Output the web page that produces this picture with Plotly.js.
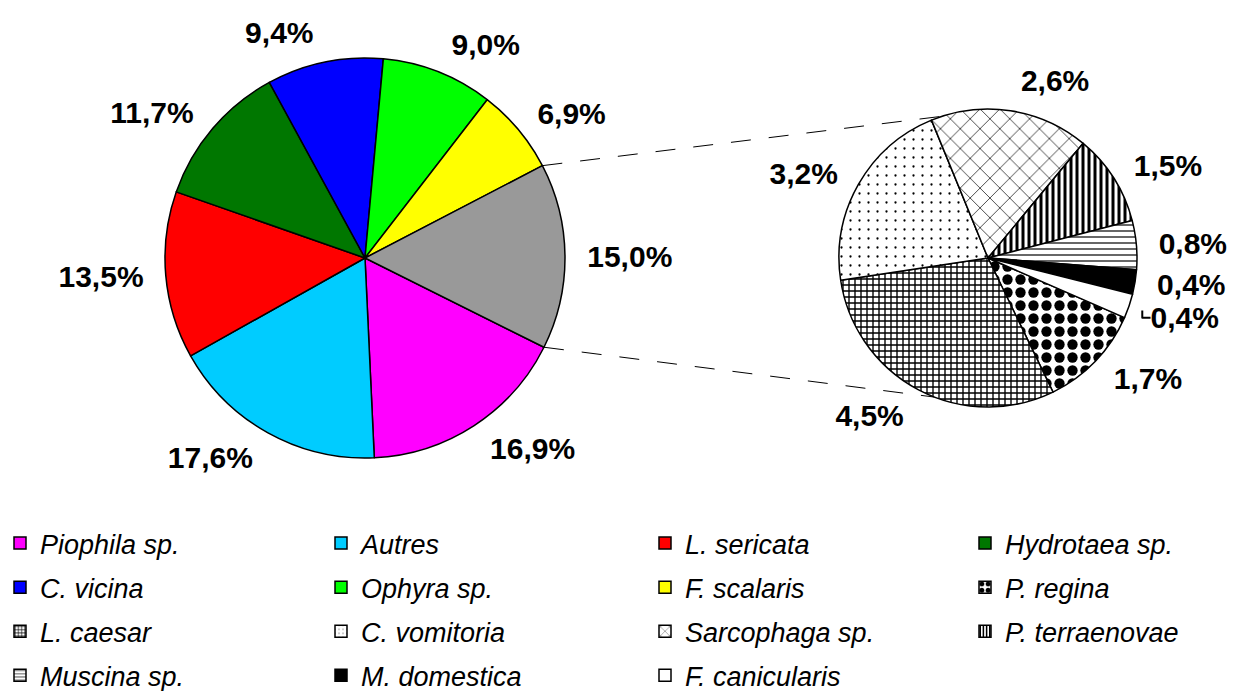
<!DOCTYPE html>
<html>
<head>
<meta charset="utf-8">
<script src="https://cdn.plot.ly/plotly-3.0.1.min.js"></script>
<style>html,body{margin:0;padding:0;background:#fff;}#chart{width:1239px;height:691px;}</style>
</head>
<body>
<div id="chart"></div>
<script>
// ---- data ----
var mainLabels = ['Piophila sp.', 'Autres', 'L. sericata', 'Hydrotaea sp.', 'C. vicina', 'Ophyra sp.', 'F. scalaris', 'Autres espèces'];
var mainValues = [16.9, 17.6, 13.5, 11.7, 9.4, 9.0, 6.9, 15.0];
var mainColors = ['#ff00ff', '#00ccff', '#ff0000', '#007700', '#0000ff', '#00ff00', '#ffff00', '#999999'];

var subLabels = ['P. regina', 'L. caesar', 'C. vomitoria', 'Sarcophaga sp.', 'P. terraenovae', 'Muscina sp.', 'M. domestica', 'F. canicularis'];
var subValues = [1.7, 4.5, 3.2, 2.6, 1.5, 0.8, 0.4, 0.4];
var subColors = ['#ffffff', '#ffffff', '#ffffff', '#ffffff', '#ffffff', '#ffffff', '#000000', '#ffffff'];
var subShapes = ['.', '+', '.', 'x', '|', '-', '', ''];
var subSizes = [13, 6, 9, 14, 6, 6, 8, 8];
var subSolidity = [0.5, 0.4, 0.05, 0.12, 0.5, 0.2, 0.3, 0.3];
var subFg = ['#000', '#000', '#000', '#333', '#000', '#000', '#000', '#000'];

// ---- geometry ----
var W = 1239, H = 691;
function dom(cx, cy, r) { return {x: [(cx - r) / W, (cx + r) / W], y: [1 - (cy + r) / H, 1 - (cy - r) / H]}; }
var mainDom = dom(365, 258, 200), mainTextDom = dom(365, 258, 214);
var subDom = dom(988, 258, 149), subTextDom = dom(988, 258, 163);
var mainRot = 116.5, subRot = 113.6;

var labelFont = {family: 'Liberation Sans, Arial, sans-serif', size: 30, color: '#000', weight: 'bold'};
var legendFont = {family: 'Liberation Sans, Arial, sans-serif', size: 27, style: 'italic', color: '#000'};
var clear = function (arr) { return arr.map(function () { return 'rgba(0,0,0,0)'; }); };

var traces = [
  {
    type: 'pie', labels: mainLabels, values: mainValues, sort: false, direction: 'clockwise',
    rotation: mainRot, domain: mainDom,
    marker: {colors: mainColors, line: {color: '#000', width: 1.5}},
    textinfo: 'none', showlegend: false, hoverinfo: 'label+value'
  },
  {
    type: 'pie', labels: subLabels, values: subValues, sort: false, direction: 'clockwise',
    rotation: subRot, domain: subDom,
    marker: {
      colors: subColors, line: {color: '#000', width: 1.5},
      pattern: {shape: subShapes, size: subSizes, solidity: subSolidity, fgcolor: subFg, bgcolor: '#fff', fillmode: 'replace'}
    },
    textinfo: 'none', showlegend: false, hoverinfo: 'label+value'
  },
  // percentage labels, set slightly further out than the slices
  {
    type: 'pie', labels: mainLabels, values: mainValues, sort: false, direction: 'clockwise',
    rotation: mainRot, domain: mainTextDom,
    marker: {colors: clear(mainValues), line: {width: 0}},
    textposition: 'outside', texttemplate: '%{value:.1f}%', textfont: labelFont,
    showlegend: false, hoverinfo: 'skip'
  },
  {
    type: 'pie', labels: subLabels, values: subValues, sort: false, direction: 'clockwise',
    rotation: subRot, domain: subTextDom,
    marker: {colors: clear(subValues), line: {width: 0}},
    textposition: 'outside', texttemplate: '%{value:.1f}%', textfont: labelFont,
    showlegend: false, hoverinfo: 'skip'
  }
];

// legend entries (species only, without the grey "others" slice): 4 columns, filled row by row
var legendNames = mainLabels.slice(0, 7).concat(subLabels);
var legendColors = mainColors.slice(0, 7).concat(subColors);
var nMain = 7;
function fillMain(v) { var a = []; for (var k = 0; k < nMain; k++) a.push(v); return a; }
var legendShapes = fillMain('').concat(subShapes);
var legendSizes = fillMain(8).concat(subSizes.map(function (s) { return Math.max(4, Math.round(s * 0.6)); }));
var legendSolid = fillMain(0.3).concat(subSolidity);
var legendFg = fillMain('#000').concat(subFg);
legendNames.forEach(function (name, i) {
  var col = i % 4;
  traces.push({
    type: 'bar', x: [null], y: [null], name: name, xaxis: 'x', yaxis: 'y',
    legend: col === 0 ? 'legend' : 'legend' + (col + 1), legendgroup: 'g' + i,
    marker: {
      color: legendColors[i], line: {color: '#000', width: 1.5},
      pattern: {shape: legendShapes[i], size: legendSizes[i], solidity: legendSolid[i], fgcolor: legendFg[i], bgcolor: '#fff', fillmode: 'replace'}
    },
    hoverinfo: 'skip'
  });
});

// connector lines from the grey slice edges to the secondary pie
function pieCenter(d) {
  return {x: (d.x[0] + d.x[1]) / 2 * W, y: (1 - (d.y[0] + d.y[1]) / 2) * H,
          r: Math.min((d.x[1] - d.x[0]) * W, (d.y[1] - d.y[0]) * H) / 2};
}
var mc = pieCenter(mainDom), sc = pieCenter(subDom);
var total = mainValues.reduce(function (a, b) { return a + b; }, 0);
var before = mainValues.slice(0, mainValues.length - 1).reduce(function (a, b) { return a + b; }, 0);
var a0 = (mainRot + before / total * 360) * Math.PI / 180;
var a1 = (mainRot + 360) * Math.PI / 180;
function pt(c, ang, r) { return {x: c.x + r * Math.sin(ang), y: c.y - r * Math.cos(ang)}; }
var pStart = pt(mc, a0, mc.r), pEnd = pt(mc, a1, mc.r);
var sTop = pt(sc, -18 * Math.PI / 180, sc.r), sBot = pt(sc, 201 * Math.PI / 180, sc.r);
function line(p, q) {
  return {type: 'line', xref: 'paper', yref: 'paper', x0: p.x / W, y0: 1 - p.y / H, x1: q.x / W, y1: 1 - q.y / H,
          line: {color: '#000', width: 1, dash: '20px,18px'}, layer: 'below'};
}

function legendCol(xPx, yMidPx) {
  return {
    orientation: 'v', x: xPx / W, y: 1 - yMidPx / H, xanchor: 'left', yanchor: 'middle',
    traceorder: 'grouped', tracegroupgap: 6,
    font: legendFont, bgcolor: 'rgba(0,0,0,0)', borderwidth: 0
  };
}

var layout = {
  width: W, height: H, margin: {l: 0, r: 0, t: 0, b: 0, autoexpand: false},
  paper_bgcolor: '#fff', plot_bgcolor: 'rgba(0,0,0,0)', separators: ', ',
  xaxis: {visible: false, domain: [0, 0.01], fixedrange: true},
  yaxis: {visible: false, domain: [0, 0.01], fixedrange: true},
  shapes: [line(pStart, sTop), line(pEnd, sBot)],
  showlegend: true,
  legend: legendCol(0, 609.5),
  legend2: legendCol(321, 609.5),
  legend3: legendCol(645, 609.5),
  legend4: legendCol(965, 587.5)
};

Plotly.newPlot('chart', traces, layout, {displayModeBar: false, staticPlot: true});
</script>
</body>
</html>
